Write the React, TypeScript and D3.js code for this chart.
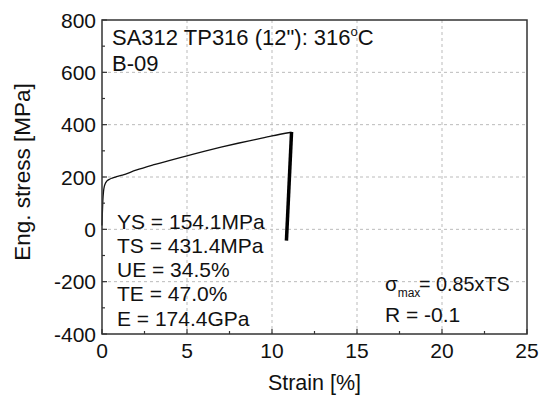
import React from "react";
import * as d3 from "d3";

const strain = [0, 0.02, 0.05, 0.09, 0.14, 0.2, 0.28, 0.4, 0.6, 0.85, 1.2, 2, 3, 4, 5, 6, 7, 8, 9, 10, 11.15];
const stress = [15, 60, 110, 145, 165, 176, 184, 190, 196, 201, 207, 226, 246, 264, 281, 298, 314, 329, 343, 357, 371];
const cycleStrain = [11.15, 10.85];
const cycleStress = [372, -43];
const xTicks = [0, 5, 10, 15, 20, 25];
const yTicks = [-400, -200, 0, 200, 400, 600, 800];
const xMinor = [2.5, 7.5, 12.5, 17.5, 22.5];
const yMinor = [-300, -100, 100, 300, 500, 700];
const infoLines = ["YS = 154.1MPa", "TS = 431.4MPa", "UE = 34.5%", "TE = 47.0%", "E = 174.4GPa"];

const W = 549, H = 402;
const M = { left: 102, right: 527, top: 20, bottom: 334 };
const FONT = "'Liberation Sans', Arial, sans-serif";

export default function App() {
  const x = d3.scaleLinear().domain([0, 25]).range([M.left, M.right]);
  const y = d3.scaleLinear().domain([-400, 800]).range([M.bottom, M.top]);
  const pts = strain.map((s, i) => [s, stress[i]] as [number, number]);
  const line = d3.line<[number, number]>().x(d => x(d[0])).y(d => y(d[1])).curve(d3.curveMonotoneX);
  const cyc = cycleStrain.map((s, i) => [s, cycleStress[i]] as [number, number]);
  const line2 = d3.line<[number, number]>().x(d => x(d[0])).y(d => y(d[1]));
  const axisColor = "#333";
  const fs = 21;
  return (
    <svg width={W} height={H} style={{ position: "absolute", left: 0, top: 0, background: "#fff" }} fontFamily={FONT}>
      <rect width={W} height={H} fill="#fff" />
      {xTicks.filter(t => t > 0 && t < 25).map(t => (
        <line key={"gx" + t} x1={x(t)} x2={x(t)} y1={M.top} y2={M.bottom} stroke="#bbb" strokeDasharray="3,3" strokeWidth={1} />
      ))}
      {yTicks.filter(t => t > -400 && t < 800).map(t => (
        <line key={"gy" + t} x1={M.left} x2={M.right} y1={y(t)} y2={y(t)} stroke="#bbb" strokeDasharray="3,3" strokeWidth={1} />
      ))}
      <path d={line(pts) || ""} fill="none" stroke="#111" strokeWidth={1.3} />
      <path d={line2(cyc) || ""} fill="none" stroke="#000" strokeWidth={3.5} />
      <rect x={M.left} y={M.top} width={M.right - M.left} height={M.bottom - M.top} fill="none" stroke={axisColor} strokeWidth={1.5} />
      {xTicks.map(t => (
        <line key={"tx" + t} x1={x(t)} x2={x(t)} y1={M.bottom} y2={M.bottom - 5} stroke={axisColor} strokeWidth={1.2} />
      ))}
      {xMinor.map(t => (
        <line key={"mx" + t} x1={x(t)} x2={x(t)} y1={M.bottom} y2={M.bottom - 3} stroke={axisColor} strokeWidth={1.2} />
      ))}
      {yTicks.map(t => (
        <line key={"ty" + t} x1={M.left} x2={M.left + 5} y1={y(t)} y2={y(t)} stroke={axisColor} strokeWidth={1.2} />
      ))}
      {yMinor.map(t => (
        <line key={"my" + t} x1={M.left} x2={M.left + 3} y1={y(t)} y2={y(t)} stroke={axisColor} strokeWidth={1.2} />
      ))}
      {xTicks.map(t => (
        <text key={"lx" + t} x={x(t)} y={M.bottom + 24} textAnchor="middle" fontSize={fs} fill="#111">{t}</text>
      ))}
      {yTicks.map(t => (
        <text key={"ly" + t} x={M.left - 6} y={y(t) + 7.5} textAnchor="end" fontSize={fs} fill="#111">{t}</text>
      ))}
      <text x={(M.left + M.right) / 2} y={390} textAnchor="middle" fontSize={21.5} fill="#111">Strain [%]</text>
      <text transform={`translate(30,172) rotate(-90)`} textAnchor="middle" fontSize={22.5} fill="#111">Eng. stress [MPa]</text>
      <text x={112} y={45} fontSize={22} fill="#111">SA312 TP316 (12"): 316<tspan dy={-9} fontSize={13}>o</tspan><tspan dy={9}>C</tspan></text>
      <text x={112} y={71} fontSize={22} fill="#111">B-09</text>
      {infoLines.map((s, i) => (
        <text key={s} x={117} y={228.5 + i * 24.3} fontSize={fs} fill="#111">{s}</text>
      ))}
      <text x={385} y={291} fontSize={20.5} fill="#111">σ<tspan dy={6} fontSize={12}>max</tspan><tspan x={419} dy={-6} fontSize={19.8}>= 0.85xTS</tspan></text>
      <text x={385} y={322} fontSize={fs} fill="#111">R = -0.1</text>
    </svg>
  );
}
